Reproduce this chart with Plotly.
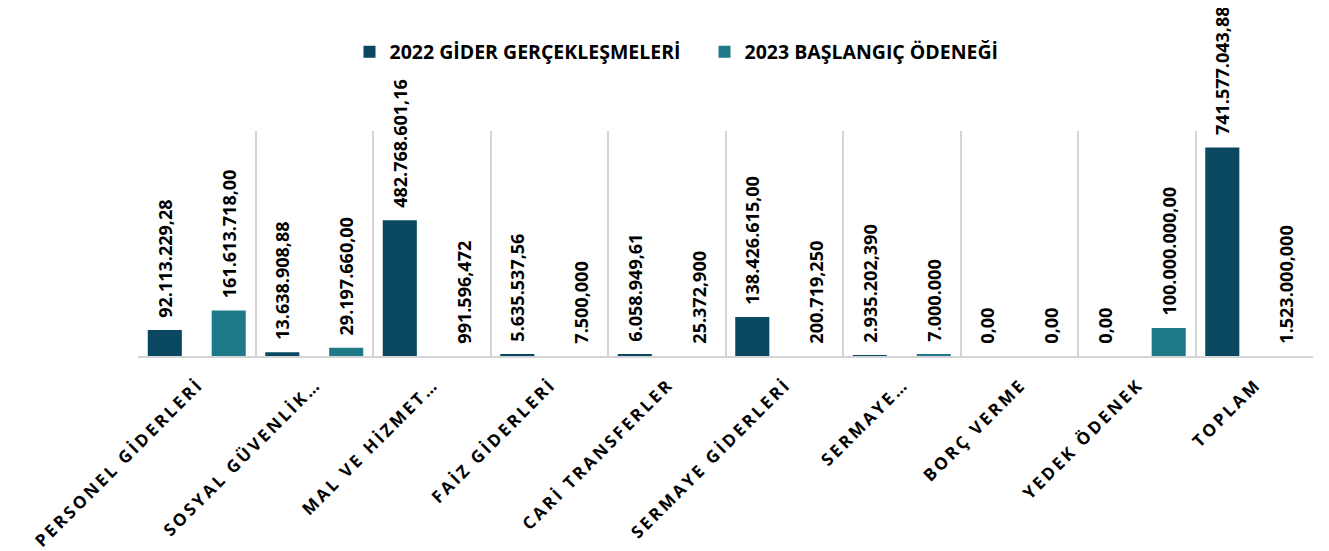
import plotly.graph_objects as go

# categories as shown on the axis (truncated like the original)
categories = ["PERSONEL GİDERLERİ", "SOSYAL GÜVENLİK…", "MAL VE HİZMET…",
              "FAİZ GİDERLERİ", "CARİ TRANSFERLER", "SERMAYE GİDERLERİ",
              "SERMAYE…", "BORÇ VERME", "YEDEK ÖDENEK", "TOPLAM"]

# series values
gider_2022 = [92113229.28, 13638908.88, 482768601.16, 5635537.56, 6058949.61,
              138426615.00, 2935202.390, 0.0, 0.0, 741577043.88]
odenek_2023 = [161613718.00, 29197660.00, 991.596472, 7.5, 25.3729,
               200.71925, 7000000.0, 0.0, 100000000.00, 1523.0]

# data labels as printed on the chart
labels_2022 = ["92.113.229,28", "13.638.908,88", "482.768.601,16", "5.635.537,56",
               "6.058.949,61", "138.426.615,00", "2.935.202,390", "0,00", "0,00",
               "741.577.043,88"]
labels_2023 = ["161.613.718,00", "29.197.660,00", "991.596,472", "7.500,000",
               "25.372,900", "200.719,250", "7.000.000", "0,00", "100.000.000,00",
               "1.523.000,000"]

names = ["2022 GİDER GERÇEKLEŞMELERİ", "2023 BAŞLANGIÇ ÖDENEĞİ"]
colors = ["#0a4760", "#1e7a89"]

# letter-spaced tick text
ticktext = ["\u2009".join(c) for c in categories]

label_font = dict(family="Open Sans", size=18, color="black", weight="bold")

fig = go.Figure()
for vals, labs, name, col, off in [(gider_2022, labels_2022, names[0], colors[0], -0.417),
                                   (odenek_2023, labels_2023, names[1], colors[1], 0.127)]:
    fig.add_bar(
        x=categories, y=vals, name=name,
        marker=dict(color=col, line=dict(width=0)),
        width=0.29, offset=off,
        text=["\u00a0\u00a0" + t for t in labs],
        textposition="outside", textangle=-90,
        textfont=label_font, constraintext="none", cliponaxis=False,
    )

# the page body adds 8px, so margins are 8px smaller than the on-screen positions
fig.update_layout(
    width=1329, height=551,
    margin=dict(l=130, r=24, t=123, b=203, autoexpand=False),
    plot_bgcolor="white", paper_bgcolor="white",
    barmode="overlay",
    showlegend=True,
    legend=dict(orientation="h", x=0.18, xanchor="left",
                yref="container", y=0.92, yanchor="middle",
                font=dict(family="Open Sans", size=19.5, color="black", weight="bold"),
                itemwidth=30, traceorder="normal",
                entrywidth=310, entrywidthmode="pixels"),
    xaxis=dict(type="category", tickson="boundaries", showgrid=True,
               gridcolor="#d4d4d4", gridwidth=1.5, ticks="",
               showline=True, linecolor="#d4d4d4", linewidth=1.5,
               tickmode="array", tickvals=categories, ticktext=ticktext,
               tickangle=-45, automargin=False, ticklabelstandoff=12,
               tickfont=dict(family="Open Sans", size=17, color="black", weight="bold")),
    yaxis=dict(range=[0, 800e6], visible=False, showgrid=False, automargin=False),
)

fig.write_html("out.html")
